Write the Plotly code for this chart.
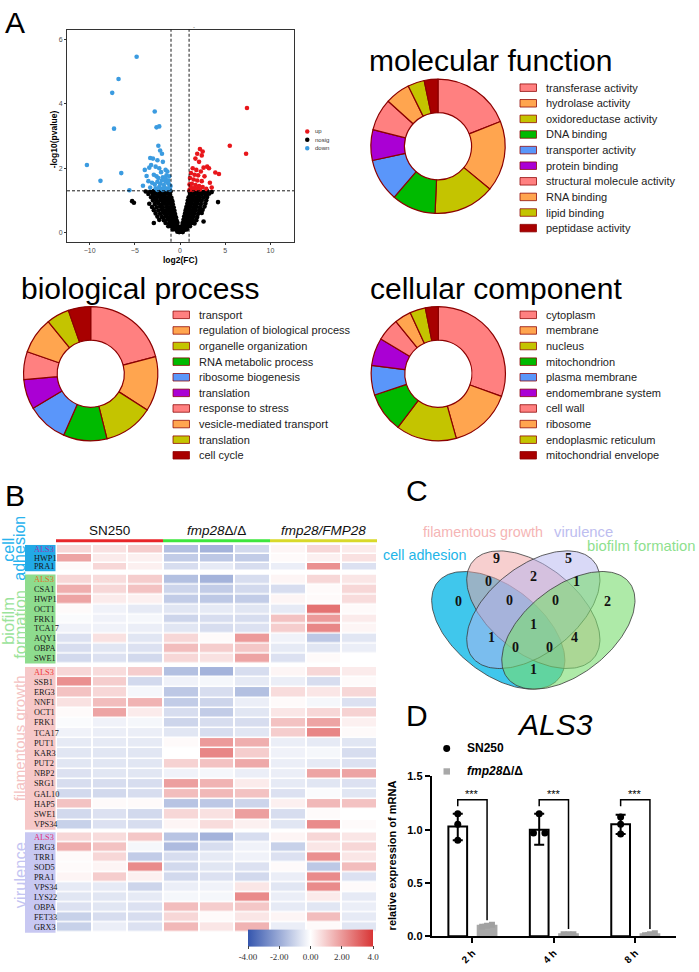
import plotly.graph_objects as go
import numpy as np

W, H = 699, 972
def fx(p): return p / W
def fy(p): return 1 - p / H

SANS = "Liberation Sans, Arial, sans-serif"
SERIF = "Liberation Serif, Times New Roman, serif"

# ------------------------------------------------------------------ data
# Volcano (log2FC, -log10 p)
up_points = [(7.4,3.87),(5.5,2.70),(7.3,2.45),(4.3,1.82),(3.9,1.87),
    (2.2,2.60),(2.5,2.52),(1.9,2.45),(2.4,2.40),(1.7,2.30),(2.1,2.20),
    (3.0,2.05),(3.2,2.0),(2.6,2.02),(1.4,2.0),(1.8,1.95),(2.3,1.9),
    (1.2,1.85),(1.6,1.80),(2.0,1.78),(2.7,1.75),(1.1,1.70),(1.5,1.65),(1.9,1.62),(2.4,1.6),(3.3,1.55),
    (1.05,1.5),(1.3,1.52),(1.7,1.48),(2.1,1.45),(2.5,1.42),(1.2,1.4),(1.5,1.38),(1.8,1.36),(2.2,1.34),
    (1.05,1.33),(1.4,1.33),(2.9,1.36),(3.5,1.4)]
down_points = [(-4.8,5.46),(-6.8,4.77),(-7.5,4.34),(-7.3,3.23),(-10.3,2.1),(-8.8,1.61),(-6.5,1.85),(-5.6,1.32),
    (-2.8,3.76),(-2.6,3.27),(-2.3,3.30),(-2.4,2.70),(-2.2,2.55),(-2.0,2.45),(-3.3,2.32),(-3.0,2.30),(-2.5,2.25),(-1.9,2.20),
    (-3.9,1.95),(-3.4,2.02),(-3.2,2.10),(-2.7,2.05),(-2.3,2.0),(-1.6,1.95),(-1.4,1.90),(-2.1,1.88),
    (-3.7,1.76),(-3.5,1.60),(-4.1,1.46),(-2.9,1.80),(-2.6,1.75),(-2.4,1.70),(-1.9,1.72),(-1.5,1.78),(-1.2,1.75),
    (-3.1,1.55),(-2.8,1.50),(-2.5,1.58),(-2.2,1.52),(-2.0,1.62),(-1.8,1.48),(-1.6,1.60),(-1.4,1.55),(-1.2,1.50),(-1.05,1.45),
    (-3.3,1.40),(-2.7,1.38),(-2.3,1.42),(-2.0,1.36),(-1.7,1.40),(-1.5,1.35),(-1.3,1.38),(-1.1,1.33),(-1.9,1.33),(-2.5,1.33),
    (-1.6,1.68),(-1.3,1.62)]
nosig_points = [
    (-3.8,1.28),(-3.3,1.27),(-2.9,1.29),(-2.5,1.26),(-2.2,1.28),(-1.9,1.27),(-1.6,1.29),(-1.3,1.26),(-1.05,1.28),
    (-3.5,1.20),(-3.0,1.19),(-2.7,1.21),(-2.3,1.18),(-2.0,1.20),(-1.7,1.19),(-1.4,1.21),(-1.1,1.18),
    (-3.2,1.10),(-2.8,1.09),(-2.5,1.11),(-2.1,1.08),(-1.8,1.10),(-1.5,1.09),(-1.2,1.11),(-0.95,1.08),
    (-5.3,0.98),(-5.1,0.93),(-3.0,1.00),(-2.6,0.99),(-2.2,1.01),(-1.9,0.98),(-1.6,1.00),(-1.3,0.99),(-1.0,1.01),(-0.85,0.98),
    (-3.4,0.90),(-2.8,0.89),(-2.4,0.91),(-2.0,0.88),(-1.7,0.90),(-1.4,0.89),(-1.1,0.91),(-0.8,0.88),
    (-3.1,0.80),(-2.6,0.79),(-2.2,0.81),(-1.9,0.78),(-1.5,0.80),(-1.2,0.79),(-0.95,0.81),(-0.7,0.78),
    (-2.9,0.70),(-2.4,0.69),(-2.0,0.71),(-1.7,0.68),(-1.4,0.70),(-1.1,0.69),(-0.85,0.71),(-0.62,0.68),
    (-2.7,0.60),(-2.2,0.59),(-1.8,0.61),(-1.5,0.58),(-1.2,0.60),(-0.95,0.59),(-0.75,0.61),(-0.55,0.58),
    (-2.5,0.50),(-2.0,0.49),(-1.6,0.51),(-1.3,0.48),(-1.05,0.50),(-0.8,0.49),(-0.6,0.51),(-0.45,0.48),
    (-2.3,0.40),(-1.8,0.39),(-1.4,0.41),(-1.1,0.38),(-0.85,0.40),(-0.65,0.39),(-0.5,0.41),(-0.38,0.38),
    (-2.9,0.30),(-1.6,0.30),(-1.2,0.29),(-0.9,0.31),(-0.7,0.28),(-0.5,0.30),(-0.38,0.29),(-0.28,0.31),
    (-1.3,0.20),(-0.95,0.19),(-0.7,0.21),(-0.5,0.18),(-0.35,0.20),(-0.2,0.19),
    (-0.8,0.10),(-0.55,0.11),(-0.35,0.09),(-0.15,0.10),(-0.3,0.03),(-0.1,0.02),
    (1.05,1.28),(1.3,1.27),(1.6,1.29),(1.9,1.26),(2.2,1.28),(2.6,1.27),(3.0,1.29),(3.5,1.26),
    (1.1,1.20),(1.4,1.19),(1.7,1.21),(2.0,1.18),(2.4,1.20),(2.8,1.19),(3.2,1.21),
    (0.95,1.10),(1.2,1.09),(1.5,1.11),(1.8,1.08),(2.2,1.10),(2.6,1.09),(3.0,1.11),
    (0.85,1.00),(1.1,0.99),(1.4,1.01),(1.7,0.98),(2.0,1.00),(2.4,0.99),(2.9,1.01),(4.2,0.95),
    (0.8,0.90),(1.05,0.89),(1.3,0.91),(1.6,0.88),(1.9,0.90),(2.3,0.89),(2.8,0.91),
    (0.7,0.80),(0.95,0.79),(1.2,0.81),(1.5,0.78),(1.8,0.80),(2.2,0.79),(2.7,0.81),
    (0.62,0.70),(0.85,0.69),(1.1,0.71),(1.4,0.68),(1.7,0.70),(2.1,0.69),(2.5,0.71),
    (0.55,0.60),(0.75,0.59),(1.0,0.61),(1.3,0.58),(1.6,0.60),(2.0,0.59),(2.4,0.61),
    (0.45,0.50),(0.65,0.49),(0.9,0.51),(1.2,0.48),(1.5,0.50),(1.9,0.49),
    (0.38,0.40),(0.55,0.39),(0.8,0.41),(1.05,0.38),(1.4,0.40),(1.8,0.39),(2.6,0.35),
    (0.28,0.30),(0.45,0.29),(0.7,0.31),(0.95,0.28),(1.3,0.30),(1.6,0.29),
    (0.2,0.20),(0.35,0.19),(0.55,0.21),(0.8,0.18),(1.1,0.20),
    (0.12,0.10),(0.3,0.11),(0.5,0.09),(0.75,0.10),(0.1,0.03),(0.3,0.02)]

# GO donuts (percent of genes)
mf_terms = ["transferase activity","hydrolase activity","oxidoreductase activity","DNA binding",
            "transporter activity","protein binding","structural molecule activity","RNA binding",
            "lipid binding","peptidase activity"]
mf_pct = [19.0,17.0,14.7,10.6,10.3,7.4,7.7,6.0,4.0,3.3]
bp_terms = ["transport","regulation of biological process","organelle organization","RNA metabolic process",
            "ribosome biogenesis","translation","response to stress","vesicle-mediated transport",
            "translation","cell cycle"]
bp_pct = [20.9,13.2,12.0,10.5,9.8,7.2,6.7,8.8,5.5,5.4]
cc_terms = ["cytoplasm","membrane","nucleus","mitochondrion","plasma membrane","endomembrane system",
            "cell wall","ribosome","endoplasmic reticulum","mitochondrial envelope"]
cc_pct = [30.5,15.2,14.6,9.6,7.1,6.7,5.5,4.0,3.75,3.1]
go_colors = ["#FF8080","#FFA54F","#C4C400","#00BA00","#5A96FA","#AA00D4",
             "#FF8080","#FFA54F","#C4C400","#A80000"]

# Heatmap (z-scores), columns: SN250 x3, fmp28Δ/Δ x3, fmp28/FMP28 x3
group_names = ["SN250", "<i>fmp28</i>Δ/Δ", "<i>fmp28/FMP28</i>"]
ca_genes = ["ALS3","HWP1","PRA1"]
ca_vals = [[0.8,0.6,1.0,-1.5,-1.8,-0.9,0.2,0.8,0.4],
           [1.8,0.4,0.3,-1.2,-1.3,-1.2,0.1,0.3,0.6],
           [0.1,0.8,0.3,-0.8,-0.5,-0.8,-0.4,2.2,-0.7]]
bf_genes = ["ALS3","CSA1","HWP1","OCT1","FRK1","TCA17","AQY1","OBPA","SWE1"]
bf_vals = [[0.8,0.7,1.0,-1.5,-1.8,-0.8,0.2,0.8,0.5],
           [1.6,0.8,1.2,-1.0,-1.2,-0.9,-0.8,0.1,0.8],
           [1.8,0.4,0.3,-1.2,-1.3,-1.2,0.2,0.1,0.7],
           [0.1,-0.3,-0.5,-0.6,-0.5,-0.6,-0.5,2.8,0.1],
           [-0.1,-0.3,-0.2,-1.0,-0.8,-0.8,1.2,2.0,0.4],
           [-0.3,-0.3,-0.4,-0.6,-0.8,-0.7,1.0,2.4,0.2],
           [-0.7,0.6,-0.6,0.8,0.1,2.0,-0.3,-1.3,-0.6],
           [-0.8,-0.6,-0.7,1.3,1.0,1.1,-0.5,-0.6,-0.4],
           [-0.9,-0.7,-0.9,0.8,0.6,1.8,-0.7,0.1,0.0]]
fg_genes = ["ALS3","SSB1","ERG3","NNF1","OCT1","FRK1","TCA17","PUT1","KAR3","PUT2","NBP2",
            "SRG1","GAL10","HAP5","SWE1","VPS34"]
fg_vals = [[0.8,0.7,1.0,-1.5,-1.8,-0.8,0.2,0.8,0.4],
           [2.2,1.0,-0.9,-0.3,-0.2,-0.5,-0.4,-0.8,0.1],
           [1.2,0.8,-0.2,-1.3,-0.8,-1.5,0.7,0.5,0.8],
           [0.6,1.3,1.5,-1.2,-1.0,-0.4,0.1,-0.2,-0.7],
           [0.1,1.8,0.4,-0.8,-1.2,-0.6,0.5,0.8,0.9],
           [-0.1,-0.3,-0.2,-1.0,-0.8,-0.8,1.2,1.8,0.3],
           [-0.3,-0.4,-0.4,-0.6,-0.8,-0.6,1.0,2.4,0.1],
           [-0.5,-0.5,-0.5,0.1,2.0,1.6,-0.4,-0.5,-0.6],
           [-0.6,-0.6,-0.6,0.0,2.4,1.0,-0.3,-0.2,-0.8],
           [-0.6,-0.6,-0.6,0.9,1.2,1.7,-0.4,-0.5,-0.7],
           [-0.7,-0.6,-0.6,-0.3,-0.2,-0.4,-0.4,1.8,1.8],
           [-0.8,-0.8,-0.8,1.9,1.5,0.4,-0.5,-0.6,-0.7],
           [-0.9,-0.9,-0.8,1.3,1.4,1.2,-0.7,-0.1,-0.6],
           [1.2,0.1,0.1,-1.4,-1.3,-1.0,0.3,1.4,1.2],
           [-0.9,-0.7,-0.9,0.8,0.6,1.9,-0.8,0.1,0.0],
           [-1.1,-0.7,-0.8,0.2,0.7,0.3,-0.6,2.3,0.1]]
vi_genes = ["ALS3","ERG3","TRR1","SOD5","PRA1","VPS34","LYS22","OBPA","FET33","GRX3"]
vi_vals = [[0.8,0.7,1.1,-1.4,-1.8,-0.8,0.2,0.8,0.5],
           [1.6,1.2,-0.2,-1.6,-0.8,-0.3,-1.1,0.5,0.8],
           [0.1,0.8,-1.2,-0.8,-0.5,-0.3,-0.7,2.2,0.5],
           [0.1,0.2,2.3,-0.9,-0.6,-0.7,0.1,-1.3,1.3],
           [0.2,1.0,0.3,-0.9,-0.7,-0.9,-0.4,2.3,-0.7],
           [-0.5,-0.5,-1.0,-0.4,-0.3,0.5,-0.6,2.3,0.1],
           [-0.6,-0.6,-0.5,-0.2,-0.2,2.3,-0.4,0.4,-0.5],
           [-0.7,-0.6,-0.7,1.3,1.0,1.1,-0.5,-0.6,-0.4],
           [-1.1,-0.8,-0.8,0.8,0.1,0.5,0.2,1.3,-0.5],
           [-1.1,-0.4,-0.7,1.4,0.5,1.5,-0.4,0.1,-0.6]]
cbar_ticks = [-4, -2, 0, 2, 4]
cbar_text = ["-4.00", "-2.00", "0.00", "2.00", "4.0"]

# Venn
venn_sets = ["cell adhesion", "filamentous growth", "virulence", "biofilm formation"]
venn_regions = ["A","B","C","D","AB","BC","CD","ABC","BCD","ABCD","AC","BD","ACD","ABD","AD"]
venn_counts = [0, 9, 5, 2, 0, 2, 1, 0, 0, 1, 1, 4, 0, 0, 1]

# qPCR ALS3
times = ["2 h", "4 h", "8 h"]
sn_mean = [1.03, 1.00, 1.05]
sn_up = [0.12, 0.15, 0.09]
sn_dn = [0.13, 0.14, 0.09]
sn_reps = [[1.15, 1.05, 0.90], [1.15, 0.97, 0.97], [1.12, 1.05, 0.96]]
fmp_mean = [0.10, 0.02, 0.02]
fmp_sd = [0.01, 0.005, 0.01]
fmp_reps = [[0.09, 0.10, 0.11], [0.02, 0.02, 0.02], [0.01, 0.02, 0.03]]
sig_labels = ["***", "***", "***"]

# ------------------------------------------------------------------ figure
fig = go.Figure()
ann = []
shapes = []

def A(text, x, y, size, color="black", family=SANS, xanchor="center", yanchor="middle",
      angle=0, xref="paper", yref="paper"):
    if xref == "paper":
        x = fx(x)
    if yref == "paper":
        y = fy(y)
    ann.append(dict(text=text, x=x, y=y, xref=xref, yref=yref, showarrow=False,
                    xanchor=xanchor, yanchor=yanchor, textangle=angle,
                    font=dict(family=family, size=size, color=color)))

# ---- Panel A: volcano
for pts, col in [(nosig_points, "black"), (down_points, "#3B9BE0"), (up_points, "#E8161B")]:
    fig.add_trace(go.Scatter(x=[p[0] for p in pts], y=[p[1] for p in pts], mode="markers",
                             marker=dict(color=col, size=4.6, line=dict(width=0)),
                             xaxis="x", yaxis="y", showlegend=False, hoverinfo="skip"))
for xv in [-1, 1]:
    shapes.append(dict(type="line", xref="x", yref="y domain", x0=xv, x1=xv, y0=0, y1=1,
                       line=dict(color="black", width=0.9, dash="3px,2px")))
shapes.append(dict(type="line", xref="x domain", yref="y", x0=0, x1=1, y0=1.30103, y1=1.30103,
                   line=dict(color="black", width=0.9, dash="3px,2px")))
A("A", 15, 17, 30)
A("<b>-log10(pvalue)</b>", 54, 135, 8.5, angle=-90)
A("<b>log2(FC)</b>", 180, 257.5, 8.5)
A("-", 194, 21, 6, color="#555")
for lab, col, yy in [("up", "#E8161B", 127), ("nosig", "black", 135.5), ("down", "#3B9BE0", 144)]:
    shapes.append(dict(type="circle", xref="paper", yref="paper", x0=fx(305), x1=fx(309.5),
                       y0=fy(yy + 2.25), y1=fy(yy - 2.25), fillcolor=col, line=dict(width=0)))
    A(lab, 313, yy, 6, color="#333", xanchor="left")

# ---- GO donuts
def donut(vals, terms, cx, cy, title, title_xy, leg_x, leg_y0):
    r = 68
    fig.add_trace(go.Pie(values=vals, labels=[f"{i+1}. {t}" for i, t in enumerate(terms)],
                         domain=dict(x=[fx(cx - r), fx(cx + r)], y=[fy(cy + r), fy(cy - r)]),
                         hole=0.5, sort=False, direction="clockwise", rotation=0,
                         marker=dict(colors=go_colors, line=dict(color="#8B0000", width=1.2)),
                         textinfo="none", showlegend=False, hoverinfo="label+value"))
    A(title, title_xy[0], title_xy[1], 30)
    for i, t in enumerate(terms):
        yy = leg_y0 + 15.8 * i
        shapes.append(dict(type="rect", xref="paper", yref="paper", x0=fx(leg_x), x1=fx(leg_x + 16.5),
                           y0=fy(yy + 3.8), y1=fy(yy - 3.8), fillcolor=go_colors[i],
                           line=dict(color="rgba(139,0,0,0.75)", width=1)))
        A(t, leg_x + 24, yy, 11, color="#222", xanchor="left")

donut(mf_pct, mf_terms, 438, 142, "molecular function", (491, 55), 520, 82.7)
donut(bp_pct, bp_terms, 90.7, 372.3, "biological process", (140, 286), 173, 312.7)
donut(cc_pct, cc_terms, 438.3, 372.3, "cellular component", (496, 286), 520, 312.7)

# ---- Panel B: heatmap
colorscale = [[0, "#3556AE"], [0.5, "#FFFFFF"], [1, "#D83535"]]
hm_groups = [
    (ca_genes, ca_vals, "y2", 545.7, 572.3, "#22A9E6", "#9A3AB0"),
    (bf_genes, bf_vals, "y3", 575.7, 665.7, "#8EDC8E", "#E0702A"),
    (fg_genes, fg_vals, "y4", 669.3, 834.0, "#F6C8C8", "#F03A3A"),
    (vi_genes, vi_vals, "y5", 836.7, 938.3, "#C8C8F2", "#E0307A"),
]
layout_axes = {}
for gi, (genes, vals, yax, top, bot, boxcol, alscol) in enumerate(hm_groups):
    last = gi == len(hm_groups) - 1
    fig.add_trace(go.Heatmap(z=vals, x=list(range(9)), y=list(range(len(genes))),
                             xaxis="x2", yaxis=yax, colorscale=colorscale, zmin=-4, zmax=4,
                             xgap=2, ygap=1.5, showscale=last, hoverinfo="z",
                             colorbar=dict(orientation="h", x=fx(310.5), xanchor="center",
                                           y=fy(951.5), yanchor="middle", len=125, lenmode="pixels",
                                           thickness=17, thicknessmode="pixels", outlinewidth=0,
                                           tickvals=cbar_ticks, ticktext=cbar_text, ticks="outside",
                                           ticklen=3, xpad=0, ypad=0,
                                           tickfont=dict(family=SERIF, size=9, color="#333"))))
    n = len(genes)
    layout_axes["yaxis" + yax[1:]] = dict(domain=[fy(bot), fy(top)], range=[n - 0.5, -0.5],
                                          anchor="x2", visible=False, fixedrange=True)
    shapes.append(dict(type="rect", xref="paper", yref="paper", x0=fx(25), x1=fx(55.5),
                       y0=fy(bot), y1=fy(top), fillcolor=boxcol, line=dict(width=0), layer="below"))
    for i, g in enumerate(genes):
        A(g, 31.5, i, 8.3, color=(alscol if g == "ALS3" else "#161616"), family=SERIF,
          xanchor="left", yref=yax)

# group labels left
A("cell", 8.5, 551, 16, color="#2AB3EE", angle=-90)
A("adhesion", 20, 549.5, 16, color="#2AB3EE", angle=-90)
A("biofilm", 8.5, 623, 16.5, color="#9BE39B", angle=-90)
A("formation", 20, 626.5, 16.5, color="#9BE39B", angle=-90)
A("filamentous growth", 19.5, 742, 15, color="#F4C2C2", angle=-90)
A("virulence", 20, 880, 16.5, color="#C4C4F2", angle=-90)
A("B", 15, 496, 30)

# column headers
hdr_cols = ["#E8262A", "#3EE63E", "#D9D92A"]
for k in range(3):
    x0 = 56 + k * 107
    A(group_names[k], x0 + 53.5, 531.5, 13.5, color="#111")
    shapes.append(dict(type="line", xref="paper", yref="paper", x0=fx(x0), x1=fx(x0 + 107),
                       y0=fy(541.5), y1=fy(541.5), line=dict(color=hdr_cols[k], width=3)))

# ---- Panel C: Venn
venn_geom = [(0.35, 0.47, 135), (0.5, 0.57, 135), (0.5, 0.57, 45), (0.65, 0.47, 45)]
venn_fill = ["rgba(0,180,230,0.75)", "rgba(240,160,160,0.5)", "rgba(180,180,240,0.5)",
             "rgba(120,220,110,0.6)"]
t = np.linspace(0, 2 * np.pi, 181)
for (cx, cy, rot), fc in zip(venn_geom, venn_fill):
    r = np.deg2rad(rot)
    ex = cx + 0.35 * np.cos(t) * np.cos(r) - 0.2 * np.sin(t) * np.sin(r)
    ey = cy + 0.35 * np.cos(t) * np.sin(r) + 0.2 * np.sin(t) * np.cos(r)
    fig.add_trace(go.Scatter(x=ex, y=ey, mode="lines", fill="toself", fillcolor=fc,
                             line=dict(color="#3a3a3a", width=0.8), xaxis="x3", yaxis="y6",
                             showlegend=False, hoverinfo="skip"))
venn_label_pos = {"A": (0.179, 0.608), "B": (0.343, 0.818), "C": (0.650, 0.818), "D": (0.817, 0.608),
                  "AB": (0.307, 0.708), "BC": (0.5, 0.731), "CD": (0.685, 0.708),
                  "ABC": (0.4, 0.613), "BCD": (0.593, 0.613), "ABCD": (0.5, 0.496),
                  "AC": (0.322, 0.436), "BD": (0.678, 0.434), "ACD": (0.422, 0.385),
                  "ABD": (0.571, 0.385), "AD": (0.5, 0.281)}
for reg, cnt in zip(venn_regions, venn_counts):
    ux, vy = venn_label_pos[reg]
    A(f"<b>{cnt}</b>", ux, vy, 14, color="#111", family=SERIF, xref="x3", yref="y6")
A(venn_sets[0], 469, 556, 14.3, color="#22B5E8", xanchor="right")
A(venn_sets[1], 483, 533, 14.3, color="#F5B5B5")
A(venn_sets[2], 583, 533, 14.8, color="#BDBDF0")
A(venn_sets[3], 698, 547, 14.8, color="#8EDF8E", xanchor="right")
A("C", 417, 491, 30)

# ---- Panel D: bar chart
xc = np.arange(3)
off = 0.18
fig.add_trace(go.Bar(x=xc - off, y=sn_mean, width=0.23, xaxis="x4", yaxis="y7",
                     marker=dict(color="white", line=dict(color="black", width=2)),
                     error_y=dict(type="data", symmetric=False, array=sn_up, arrayminus=sn_dn,
                                  color="black", thickness=2, width=5),
                     showlegend=False))
fig.add_trace(go.Bar(x=xc + off, y=fmp_mean, width=0.23, xaxis="x4", yaxis="y7",
                     marker=dict(color="#A8A8A8", line=dict(color="#A8A8A8", width=2)),
                     error_y=dict(type="data", array=fmp_sd, color="#A8A8A8", thickness=2, width=5),
                     showlegend=False))
sn_jit = [[0, 0, 0], [0, -0.07, 0.07], [0, 0, 0]]
fmp_jit = [[-0.06, 0, 0.06]] * 3
fig.add_trace(go.Scatter(x=[xc[i] - off + sn_jit[i][j] for i in range(3) for j in range(3)],
                         y=[sn_reps[i][j] for i in range(3) for j in range(3)], mode="markers",
                         marker=dict(color="black", size=7, symbol="circle"),
                         xaxis="x4", yaxis="y7", showlegend=False))
fig.add_trace(go.Scatter(x=[xc[i] + off + fmp_jit[i][j] for i in range(3) for j in range(3)],
                         y=[fmp_reps[i][j] for i in range(3) for j in range(3)], mode="markers",
                         marker=dict(color="#A0A0A0", size=6, symbol="square"),
                         xaxis="x4", yaxis="y7", showlegend=False))
for i in range(3):
    top = max(sn_mean[i] + sn_up[i], 1.18) + 0.1
    shapes.append(dict(type="path", xref="x4", yref="y7",
                       path=f"M {xc[i]-off},{top-0.06} L {xc[i]-off},{top} L {xc[i]+off},{top} "
                            f"L {xc[i]+off},{fmp_mean[i]+0.05}",
                       line=dict(color="black", width=1.5)))
    A(sig_labels[i], xc[i], top + 0.055, 11, xref="x4", yref="y7")
A("<i>ALS3</i>", 555, 727, 30)
A("<b>relative expression of mRNA</b>", 392, 860, 11, angle=-90)
shapes.append(dict(type="circle", xref="paper", yref="paper", x0=fx(443.2), x1=fx(450.2),
                   y0=fy(755.2), y1=fy(748.2), fillcolor="black", line=dict(width=0)))
shapes.append(dict(type="rect", xref="paper", yref="paper", x0=fx(443.5), x1=fx(450),
                   y0=fy(778.2), y1=fy(771.8), fillcolor="#A8A8A8", line=dict(width=0)))
A("<b>SN250</b>", 465, 751.7, 12, xanchor="left")
A("<b><i>fmp28</i>Δ/Δ</b>", 465, 775, 12, xanchor="left")
A("D", 417, 718, 30)

# ------------------------------------------------------------------ layout
axis_font = dict(family=SANS, size=7, color="#4D4D4D")
fig.update_layout(
    width=W, height=H, margin=dict(l=0, r=0, t=0, b=0),
    paper_bgcolor="white", plot_bgcolor="white", showlegend=False,
    xaxis=dict(domain=[fx(67), fx(294)], range=[-12.5, 12.6], anchor="y",
               tickvals=[-10, -5, 0, 5, 10], showline=True, mirror=True, linecolor="#333",
               linewidth=1, ticks="outside", ticklen=2, tickcolor="#333", showgrid=False,
               zeroline=False, tickfont=axis_font, fixedrange=True),
    yaxis=dict(domain=[fy(238.7), fy(24)], range=[-0.28, 6.3], anchor="x",
               tickvals=[0, 2, 4, 6], showline=True, mirror=True, linecolor="#333",
               linewidth=1, ticks="outside", ticklen=2, tickcolor="#333", showgrid=False,
               zeroline=False, tickfont=axis_font, fixedrange=True),
    xaxis2=dict(domain=[fx(56), fx(377)], range=[-0.5, 8.5], anchor="y2", visible=False),
    xaxis3=dict(domain=[fx(400), fx(699)],
                range=[0.5 + (400 - 533.33) / 233.67, 0.5 + (699 - 533.33) / 233.67],
                anchor="y6", visible=False),
    yaxis6=dict(domain=[fy(700), fy(465)],
                range=[0.855 - (700 - 551.67) / 209, 0.855 - (465 - 551.67) / 209],
                anchor="x3", visible=False),
    xaxis4=dict(domain=[fx(431.7), fx(676)], range=[-0.5, 2.5], anchor="y7",
                tickvals=list(xc), ticktext=[f"<b>{t_}</b>" for t_ in times], tickangle=-45,
                showline=True, linecolor="black", linewidth=2, ticks="outside", ticklen=5,
                tickwidth=2, tickcolor="black", showgrid=False, zeroline=False,
                tickfont=dict(family=SANS, size=10, color="black")),
    yaxis7=dict(domain=[fy(942), fy(780)], range=[0, 1.5], anchor="x4",
                tickvals=[0, 0.5, 1.0, 1.5], ticktext=["<b>0.0</b>", "<b>0.5</b>", "<b>1.0</b>", "<b>1.5</b>"],
                showline=True, linecolor="black", linewidth=2, ticks="outside", ticklen=5,
                tickwidth=2, tickcolor="black", showgrid=False, zeroline=False,
                tickfont=dict(family=SANS, size=11, color="black")),
    annotations=ann, shapes=shapes,
)
fig.update_layout(**layout_axes)
fig.write_html("out.html", config={"displayModeBar": False},
               post_script="document.body.style.margin='0';document.body.style.overflow='hidden';")
